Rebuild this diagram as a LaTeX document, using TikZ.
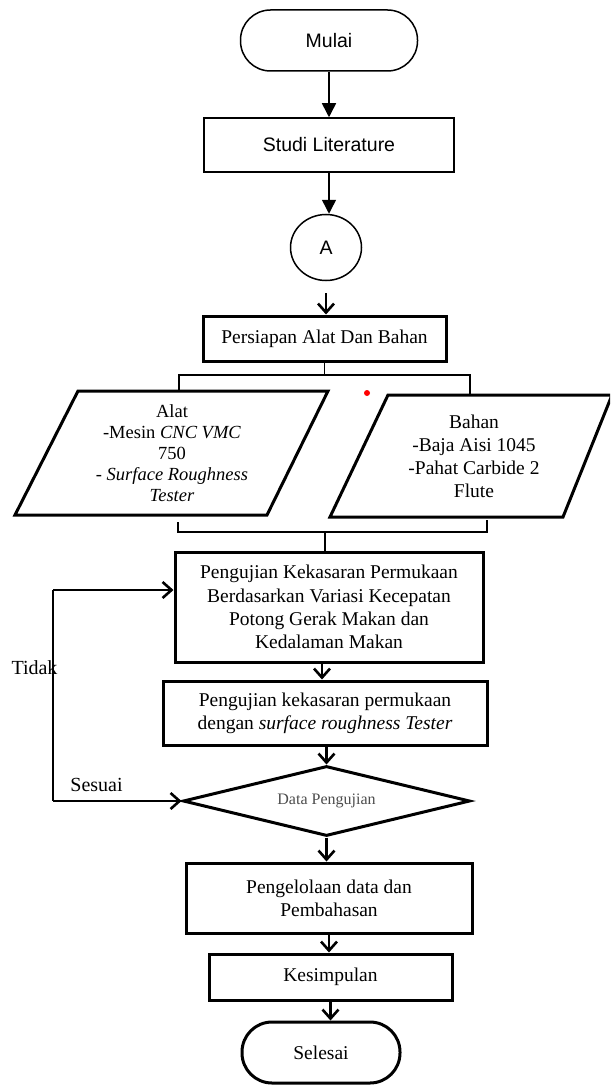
\documentclass[tikz,border=0pt]{standalone}
\usepackage{fontspec}
\setmainfont{Liberation Serif}
\newfontfamily\arialf{Liberation Sans}
\usetikzlibrary{arrows.meta,shapes.geometric}
\begin{document}
\begin{tikzpicture}[x=1pt,y=-1pt,
  thinbox/.style={draw, line width=1.5pt, inner sep=0pt, align=center, font=\arialf\fontsize{19.5}{23}\selectfont},
  thickbox/.style={draw, line width=3pt, inner sep=0pt, align=center, font=\fontsize{19.5}{23.3}\selectfont},
  paratext/.style={inner sep=0pt, align=center, font=\fontsize{18.5}{21}\selectfont},
  parabox/.style={draw, line width=3pt, line join=miter},
  thinarrow/.style={line width=1.5pt, -{Triangle[length=14pt,width=14pt]}},
  barb/.style={line width=2.6pt, -{Straight Barb[length=9pt,width=16pt]}},
  brk/.style={line width=1.4pt},
  lbl/.style={inner sep=0pt, font=\fontsize{20}{24}\selectfont},
]
\useasboundingbox (0,0) rectangle (610,1086);
\clip (0,0) rectangle (610,1086);

% top part
\node[thinbox, rounded corners=30pt, minimum width=177pt, minimum height=61pt] (mulai) at (329,40.5) {Mulai};
\node[thinbox, minimum width=250pt, minimum height=54pt] (studi) at (329,145) {Studi Literature};
\node[thinbox, ellipse, minimum width=71pt, minimum height=66pt] (A) at (326,247.5) {A};
\draw[thinarrow] (mulai.south) -- (studi.north);
\draw[thinarrow] (studi.south) -- (studi.south |- A.north);

% persiapan
\node[thickbox, minimum width=243pt, minimum height=45pt] (persiapan) at (324.5,338.5) {Persiapan Alat Dan Bahan};
\coordinate (aS) at (326,293);
\draw[barb] (aS) -- (aS |- persiapan.north);

% parallelograms
\node[paratext] (alat) at (172,453) {Alat\\-Mesin \textit{CNC VMC}\\750\\- \textit{Surface Roughness}\\\textit{Tester}};
\draw[parabox] (78,391) -- (328,391) -- (267,515) -- (15,515) -- cycle;
\node[paratext, font=\fontsize{19.5}{23}\selectfont] (bahan) at (474,456) {Bahan\\-Baja Aisi 1045\\-Pahat Carbide 2\\Flute};
\draw[parabox] (388,395) -- (612,395) -- (563,517) -- (330,517) -- cycle;

% top bracket
\coordinate (bt) at (persiapan.south |- 0,375);
\coordinate (btl) at (179,375);
\coordinate (btr) at (470,375);
\coordinate (btle) at (179,391);
\coordinate (btre) at (470,395);
\draw[brk] (persiapan.south) -- (bt);
\draw[brk] (btle) -- (btl) -- (btr) -- (btre);

% bottom bracket
\coordinate (bbl1) at (178,522);
\coordinate (bbl) at (178,532);
\coordinate (bbr) at (487,532);
\coordinate (bbr1) at (487,520);
\coordinate (bbm) at (325,532);
\draw[brk] (bbl1) -- (bbl) -- (bbr) -- (bbr1);

% lower boxes
\node[thickbox, minimum width=308pt, minimum height=110pt] (pk1) at (329,607) {Pengujian Kekasaran Permukaan\\Berdasarkan Variasi Kecepatan\\Potong Gerak Makan dan\\Kedalaman Makan};
\draw[brk] (bbm) -- (bbm |- pk1.north);
\node[thickbox, minimum width=324pt, minimum height=64pt] (pk2) at (325,713) {Pengujian kekasaran permukaan\\dengan \textit{surface roughness Tester}};
\node[diamond, draw, line width=3pt, inner sep=0pt, minimum width=287pt, minimum height=70pt, aspect=4.1, text=black!70, font=\fontsize{16}{19}\selectfont] (dp) at (326.5,801) {Data Pengujian};
\node[thickbox, minimum width=286pt, minimum height=70pt] (pd) at (329,898) {Pengelolaan data dan\\Pembahasan};
\node[thickbox, minimum width=243pt, minimum height=46pt] (ks) at (330.5,977) {Kesimpulan};
\node[thickbox, rounded corners=30pt, minimum width=158pt, minimum height=61pt] (sel) at (321,1052.5) {Selesai};

\draw[barb] (pk1.south -| 322,0) -- (pk2.north -| 322,0);
\draw[barb] (pk2.south -| dp.north) -- (dp.north);
\draw[barb] (dp.south) -- (dp.south |- pd.north);
\draw[barb] (pd.south) -- (pd.south |- ks.north);
\draw[barb] (ks.south) -- (ks.south |- sel.north);

% loop
\coordinate (lt) at (53,590);
\coordinate (lb) at (53,801);
\draw[line width=2.6pt] (lt) -- (lb);
\draw[barb] (lt) -- (lt -| pk1.west);
\draw[barb] (lb) -- (dp.west);
\node[lbl] (tidak) at (34.5,668) {Tidak};
\node[lbl] (sesuai) at (96.5,785) {Sesuai};

% red dot
\fill[red] (367,393) circle (3);
\end{tikzpicture}
\end{document}
